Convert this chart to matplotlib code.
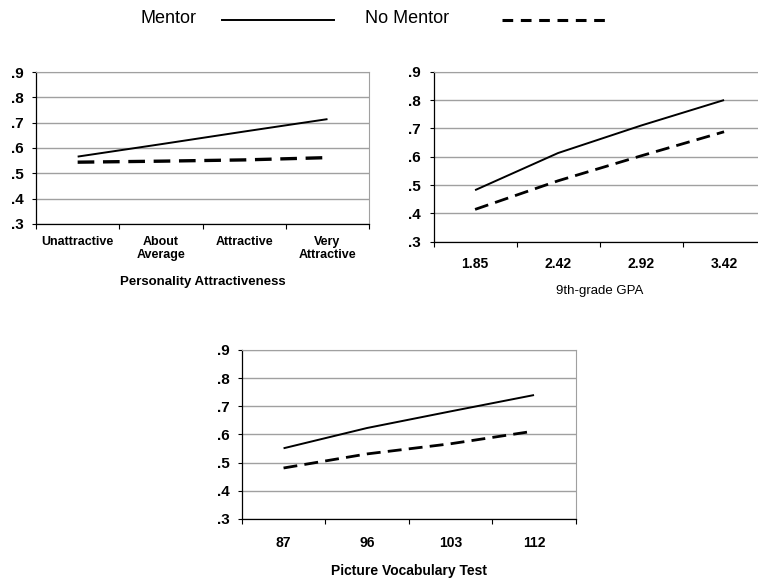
import numpy as np
import matplotlib.pyplot as plt

plt.rcParams['font.family'] = ['Liberation Sans', 'DejaVu Sans']

# data
attract_labels = ['Unattractive', 'About\nAverage', 'Attractive', 'Very\nAttractive']
attract_mentor = [0.566, 0.615, 0.665, 0.714]
attract_none = [0.544, 0.548, 0.553, 0.562]

gpa_labels = ['1.85', '2.42', '2.92', '3.42']
gpa_mentor = [0.482, 0.613, 0.71, 0.80]
gpa_none = [0.414, 0.515, 0.603, 0.688]

vocab_labels = ['87', '96', '103', '112']
vocab_mentor = [0.551, 0.623, 0.682, 0.740]
vocab_none = [0.481, 0.531, 0.567, 0.612]

yticks = [0.3, 0.4, 0.5, 0.6, 0.7, 0.8, 0.9]
ytick_labels = ['.3', '.4', '.5', '.6', '.7', '.8', '.9']

fig = plt.figure(figsize=(7.58, 5.83), dpi=100)


def panel(rect, labels, mentor, none, xlabel, xbold, dash_lw, xsize, xpad, lsize, lpad):
    ax = fig.add_axes(rect)
    x = np.arange(len(labels))
    ax.plot(x, mentor, color='black', lw=1.4, solid_capstyle='butt')
    ax.plot(x, none, color='black', lw=dash_lw, dashes=(5, 2.6), dash_capstyle='butt')
    ax.set_xlim(-0.5, len(labels) - 0.5)
    ax.set_ylim(0.3, 0.9)
    ax.set_yticks(yticks)
    ax.set_yticklabels(ytick_labels, fontsize=11, fontweight='bold')
    ax.tick_params(axis='y', length=3, width=0.8, pad=6)
    # category boundaries as ticks, labels in between
    ax.set_xticks(np.arange(len(labels) + 1) - 0.5)
    ax.set_xticklabels([])
    ax.tick_params(axis='x', which='major', length=3.5, width=0.8)
    ax.set_xticks(x, minor=True)
    ax.set_xticklabels(labels, minor=True, fontsize=xsize, fontweight='bold',
                       linespacing=1.05)
    ax.tick_params(axis='x', which='minor', length=0, pad=xpad)
    ax.grid(axis='y', color='#a0a0a0', lw=1.0)
    ax.set_axisbelow(True)
    for s in ['top', 'right']:
        ax.spines[s].set_color('#a0a0a0')
    ax.spines['left'].set_linewidth(0.9)
    ax.spines['bottom'].set_linewidth(0.9)
    ax.set_xlabel(xlabel, fontsize=lsize, fontweight='bold' if xbold else 'normal',
                  labelpad=lpad)
    return ax


panel([0.0475, 0.6158, 0.4395, 0.2607], attract_labels, attract_mentor, attract_none,
      'Personality Attractiveness', True, 2.4, 9, 9, 9.5, 11)
panel([0.572, 0.5854, 0.438, 0.2916], gpa_labels, gpa_mentor, gpa_none,
      '9th-grade GPA', False, 2.0, 10, 11, 9.5, 10)
panel([0.319, 0.1098, 0.4406, 0.2899], vocab_labels, vocab_mentor, vocab_none,
      'Picture Vocabulary Test', True, 2.0, 10, 12, 10, 10)

# legend across the top
fig.text(0.185, 0.968, 'Mentor', fontsize=13, va='center')
fig.add_artist(plt.Line2D([0.293, 0.44], [0.966, 0.966], color='black', lw=1.4))
fig.text(0.482, 0.968, 'No Mentor', fontsize=13, va='center')
fig.add_artist(plt.Line2D([0.662, 0.805], [0.966, 0.966], color='black', lw=2.2,
                          dashes=(3.5, 2.5)))

fig.savefig('out.png', dpi=100)
